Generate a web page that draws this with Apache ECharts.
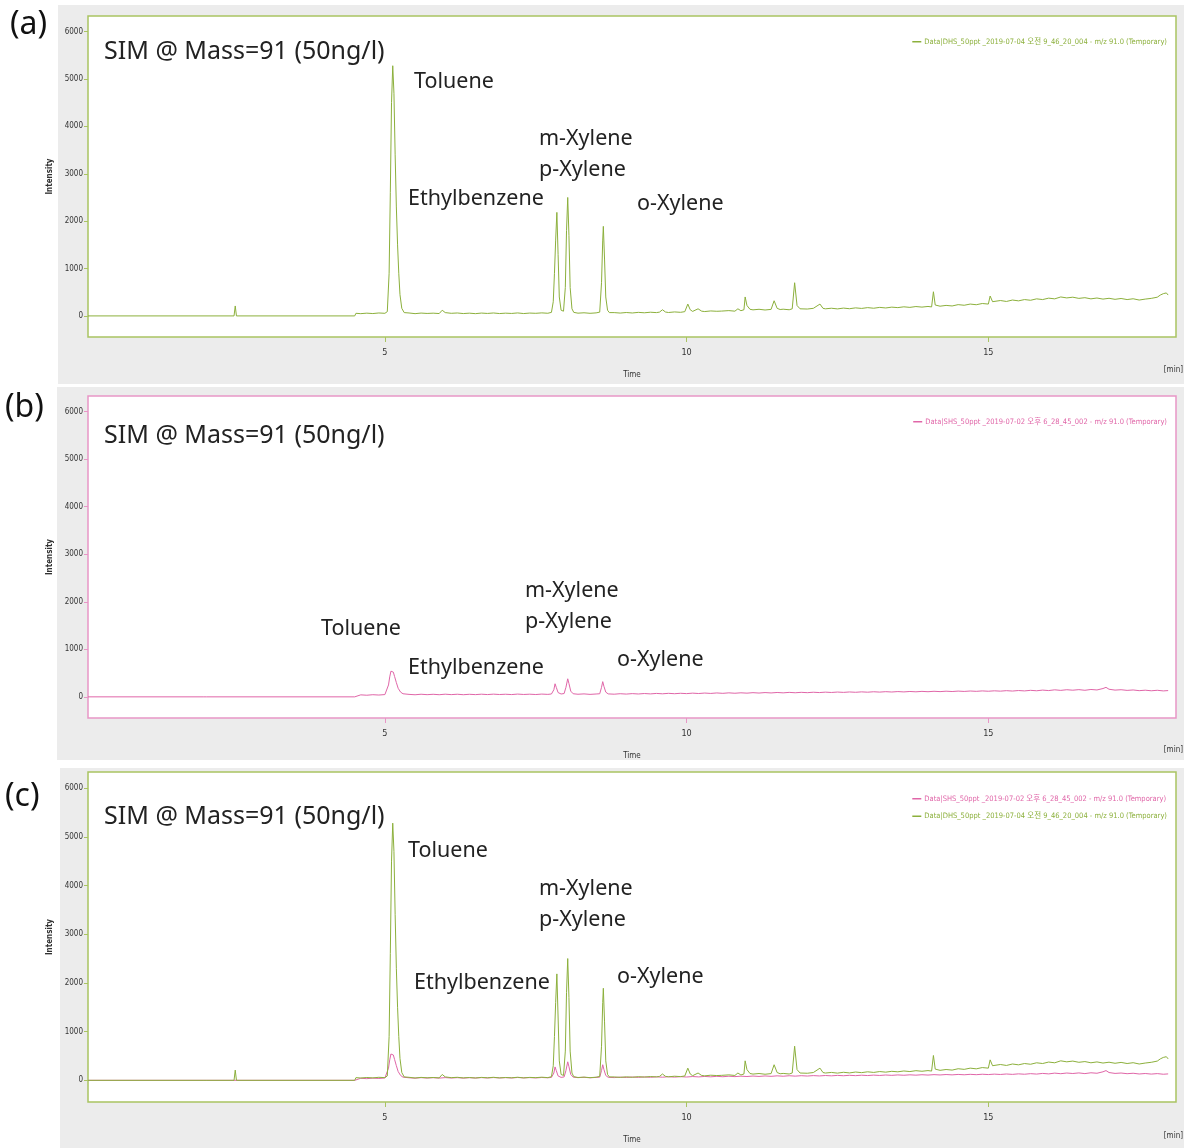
<!DOCTYPE html>
<html>
<head>
<meta charset="utf-8">
<script src="https://cdn.jsdelivr.net/npm/echarts@6/dist/echarts.min.js"></script>
<style>html,body{margin:0;padding:0;background:#fff}#c{width:1184px;height:1148px}</style>
</head>
<body>
<div id="c"></div>
<script>
// ---- data ----
const greenName = 'Data|DHS_50ppt _2019-07-04 오전 9_46_20_004 - m/z 91.0 (Temporary)';
const pinkName = 'Data|SHS_50ppt _2019-07-02 오후 6_28_45_002 - m/z 91.0 (Temporary)';
const panelLabels = ['(a)', '(b)', '(c)'];
const titleText = 'SIM @ Mass=91 (50ng/l)';
const peakNames = ['Toluene', 'Ethylbenzene', 'm-Xylene', 'p-Xylene', 'o-Xylene'];
const yTicks = [0, 1000, 2000, 3000, 4000, 5000, 6000];
const xTicks = [5, 10, 15];

// green trace (DHS), [time min, intensity]
const greenTrace = [
[0.08,0],[2.50,0],[2.52,210],[2.54,0],[4.50,0],[4.52,55],[4.6,48],[4.7,58],[4.8,50],[4.9,62],[5.0,55],
[5.04,90],[5.07,900],[5.09,2600],[5.11,4500],[5.13,5280],[5.15,4700],[5.17,3400],[5.19,2300],[5.21,1500],[5.23,900],[5.25,450],[5.28,160],[5.32,70],
[5.4,62],[5.5,48],[5.6,60],[5.7,52],[5.8,58],[5.9,50],[5.95,120],[6.0,70],[6.1,55],[6.2,62],[6.3,50],[6.4,58],[6.5,48],[6.6,60],[6.7,52],[6.8,62],[6.9,50],[7.0,58],[7.1,52],[7.2,63],[7.3,50],[7.4,60],[7.5,55],[7.6,64],[7.7,56],[7.76,75],
[7.79,300],[7.81,900],[7.83,1600],[7.85,2185],[7.87,1300],[7.89,400],[7.92,120],[7.96,100],[7.99,600],[8.01,1800],[8.03,2500],[8.05,1700],[8.07,600],[8.10,150],[8.13,75],
[8.2,58],[8.3,66],[8.4,55],[8.5,64],[8.56,80],[8.59,700],[8.61,1600],[8.62,1890],[8.64,1200],[8.66,400],[8.69,120],[8.72,70],
[8.8,70],[8.9,60],[9.0,72],[9.1,62],[9.2,75],[9.3,66],[9.4,78],[9.5,70],[9.55,80],[9.6,130],[9.65,82],[9.7,72],[9.8,84],[9.9,76],[9.97,90],[10.02,250],[10.06,130],[10.1,95],[10.19,150],[10.25,100],[10.3,92],[10.4,105],[10.5,98],[10.53,135],[10.58,102],[10.7,112],[10.8,100],[10.85,150],[10.9,110],[10.95,130],[10.97,400],[11.0,220],[11.05,140],[11.1,128],[11.2,140],[11.3,125],[11.4,138],[11.45,320],[11.5,160],[11.55,135],[11.6,142],[11.7,130],[11.75,150],[11.79,700],[11.83,220],[11.88,150],[11.9,158],[12.0,145],[12.1,160],[12.21,250],[12.26,160],[12.3,150],[12.4,162],[12.5,148],[12.6,165],[12.7,152],[12.8,170],[12.9,158],[13.0,175],[13.1,162],[13.2,180],[13.3,168],[13.4,185],[13.5,175],[13.6,192],[13.7,180],[13.8,198],[13.9,186],[14.0,200],[14.06,190],[14.09,510],[14.12,230],[14.2,205],[14.3,222],[14.4,210],[14.5,238],[14.6,225],[14.7,250],[14.8,236],[14.9,262],[15.0,250],[15.03,420],[15.07,300],[15.1,290],[15.2,325],[15.3,305],[15.4,335],[15.5,318],[15.6,345],[15.7,330],[15.8,360],[15.9,345],[16.0,375],[16.1,360],[16.2,400],[16.3,380],[16.4,395],[16.5,370],[16.6,385],[16.7,360],[16.8,378],[16.9,355],[17.0,372],[17.1,350],[17.2,368],[17.3,345],[17.4,362],[17.5,335],[17.6,355],[17.7,370],[17.8,395],[17.85,440],[17.9,470],[17.95,485],[17.98,440]
];

// pink trace (SHS), [time min, intensity]
const pinkTrace = [
[0.08,0],[2.0,0],[2.02,25],[2.04,0],[4.50,0],[4.52,35],[4.6,42],[4.7,34],[4.8,45],[4.9,38],[5.0,48],
[5.03,80],[5.06,250],[5.08,420],[5.10,540],[5.12,570],[5.14,520],[5.16,430],[5.19,300],[5.22,180],[5.26,100],[5.3,65],
[5.4,52],[5.5,44],[5.6,55],[5.7,46],[5.8,54],[5.9,45],[6.0,56],[6.1,47],[6.2,55],[6.3,45],[6.4,54],[6.5,47],[6.6,56],[6.7,48],[6.8,57],[6.9,49],[7.0,55],[7.1,48],[7.2,58],[7.3,50],[7.4,56],[7.5,49],[7.6,58],[7.7,52],[7.76,60],
[7.80,150],[7.82,275],[7.84,200],[7.87,90],[7.92,60],[7.97,70],[8.0,200],[8.03,380],[8.05,280],[8.08,120],[8.12,65],[8.2,55],[8.3,62],[8.4,52],[8.5,60],[8.56,65],[8.59,200],[8.61,320],[8.63,220],[8.66,100],[8.7,62],
[8.8,56],[8.9,66],[9.0,58],[9.1,68],[9.2,60],[9.3,70],[9.4,62],[9.5,72],[9.6,64],[9.7,74],[9.8,66],[9.9,75],[10.0,68],[10.1,78],[10.2,70],[10.3,80],[10.4,72],[10.5,82],[10.6,74],[10.7,84],[10.8,76],[10.9,85],[11.0,78],[11.1,88],[11.2,80],[11.3,90],[11.4,82],[11.5,92],[11.6,84],[11.7,94],[11.8,86],[11.9,95],[12.0,88],[12.1,97],[12.2,90],[12.3,99],[12.4,92],[12.5,101],[12.6,94],[12.7,103],[12.8,96],[12.9,105],[13.0,98],[13.1,107],[13.2,100],[13.3,109],[13.4,102],[13.5,111],[13.6,104],[13.7,113],[13.8,106],[13.9,115],[14.0,108],[14.1,117],[14.2,110],[14.3,119],[14.4,112],[14.5,121],[14.6,114],[14.7,123],[14.8,116],[14.9,125],[15.0,118],[15.1,127],[15.2,120],[15.3,130],[15.4,122],[15.5,133],[15.6,125],[15.7,137],[15.8,128],[15.9,142],[16.0,132],[16.1,148],[16.2,136],[16.3,150],[16.4,140],[16.5,152],[16.6,138],[16.7,155],[16.8,145],[16.9,175],[16.95,200],[17.0,160],[17.1,142],[17.2,150],[17.3,136],[17.4,145],[17.5,130],[17.6,140],[17.7,128],[17.8,138],[17.9,125],[17.98,132]
];

// ---- styles / layout ----
const GREEN = '#8cb03c', GREEN_BORDER = '#a9c462';
const PINK = '#e066a8', PINK_BORDER = '#e896c6';
const GREY = '#ececec';
const narrow = "'Liberation Sans Narrow','DejaVu Sans Condensed','Noto Sans CJK KR',sans-serif";
const textFont = "'Noto Sans','Noto Sans CJK KR',sans-serif";

const grids = [
  {left: 88, top: 16, width: 1088, height: 321, border: GREEN_BORDER},
  {left: 88, top: 396, width: 1088, height: 322, border: PINK_BORDER},
  {left: 88, top: 772, width: 1088, height: 330, border: GREEN_BORDER}
];
const panels = [
  {x: 58, y: 5, w: 1126, h: 379},
  {x: 57, y: 387, w: 1127, h: 373},
  {x: 60, y: 768, w: 1124, h: 380}
];

function xAx(i) {
  const c = grids[i].border;
  return {
    type: 'value', gridIndex: i, min: 0.08, max: 18.11,
    name: 'Time', nameLocation: 'middle', nameGap: 34,
    nameTextStyle: {fontSize: 8, color: '#333', fontFamily: narrow},
    axisLine: {show: false, onZero: false},
    axisTick: {show: true, customValues: xTicks, length: 5, lineStyle: {color: c}},
    axisLabel: {customValues: xTicks, fontSize: 9, color: '#333', margin: 11, fontFamily: narrow},
    splitLine: {show: false}
  };
}
function yAx(i) {
  const c = grids[i].border;
  return {
    type: 'value', gridIndex: i, min: -445, max: 6330,
    name: 'Intensity', nameLocation: 'middle', nameGap: 26,
    nameTextStyle: {fontSize: 8, color: '#333', fontWeight: 'bold', fontFamily: narrow},
    axisLine: {show: false, onZero: false},
    axisTick: {show: true, customValues: yTicks, length: 4, lineStyle: {color: c}},
    axisLabel: {customValues: yTicks, fontSize: 8, color: '#333', margin: 5, fontFamily: narrow,
      formatter: v => String(v)},
    splitLine: {show: false}
  };
}
function line(name, data, color, i) {
  return {
    type: 'line', name: name, data: data, xAxisIndex: i, yAxisIndex: i,
    showSymbol: false, symbol: 'none', lineStyle: {color: color, width: 1}, itemStyle: {color: color},
    animation: false, silent: true
  };
}
function legend(i, items, top) {
  return {
    right: 12, top: top, orient: 'vertical', itemGap: 10, itemWidth: 9, itemHeight: 1.5, icon: 'rect',
    selectedMode: false, align: 'left',
    data: items.map(it => ({name: it.name, textStyle: {color: it.color}})),
    textStyle: {fontSize: 7.5, fontFamily: narrow, padding: [0, 0, 0, -2]}
  };
}

const graphic = [];
panels.forEach(p => graphic.push({type: 'rect', z: -100, shape: {x: p.x, y: p.y, width: p.w, height: p.h}, style: {fill: GREY}}));
const panelLabelPos = [[10, 25], [5, 408], [5, 797]];
panelLabels.forEach((t, i) => graphic.push({type: 'text', z: 100, x: panelLabelPos[i][0], y: panelLabelPos[i][1],
  style: {text: t, fontSize: 32, fontFamily: textFont, fill: '#111', verticalAlign: 'middle'}}));
const titlePos = [[104, 52], [104, 436], [104, 817]];
titlePos.forEach(p => graphic.push({type: 'text', z: 100, x: p[0], y: p[1],
  style: {text: titleText, fontSize: 25, fontFamily: textFont, fill: '#222', verticalAlign: 'middle'}}));
const peakPos = [
  [[414, 82], [408, 199], [539, 139], [539, 170], [637, 204]],
  [[321, 629], [408, 668], [525, 591], [525, 622], [617, 660]],
  [[408, 851], [414, 983], [539, 889], [539, 920], [617, 977]]
];
peakPos.forEach(ps => ps.forEach((p, k) => graphic.push({type: 'text', z: 100, x: p[0], y: p[1],
  style: {text: peakNames[k], fontSize: 21.5, fontFamily: textFont, fill: '#222', verticalAlign: 'middle'}})));
const minPos = [370, 750, 1136];
minPos.forEach(y => graphic.push({type: 'text', z: 100, x: 1183, y: y,
  style: {text: '[min]', fontSize: 8, fontFamily: narrow, fill: '#333', align: 'right', verticalAlign: 'middle'}}));

const option = {
  animation: false,
  backgroundColor: '#fff',
  grid: grids.map(g => ({left: g.left, top: g.top, width: g.width, height: g.height, show: true,
    backgroundColor: '#fff', borderColor: g.border, borderWidth: 1.5})),
  xAxis: [0, 1, 2].map(xAx),
  yAxis: [0, 1, 2].map(yAx),
  legend: [
    legend(0, [{name: greenName, color: GREEN}], 33),
    legend(1, [{name: pinkName, color: PINK}], 413),
    legend(2, [{name: pinkName, color: PINK}, {name: greenName, color: GREEN}], 790)
  ],
  series: [
    line(greenName, greenTrace, GREEN, 0),
    line(pinkName, pinkTrace, PINK, 1),
    line(pinkName, pinkTrace, PINK, 2),
    line(greenName, greenTrace, GREEN, 2)
  ],
  graphic: graphic
};
const chart = echarts.init(document.getElementById('c'), null, {renderer: 'canvas'});
chart.setOption(option);
</script>
</body>
</html>
